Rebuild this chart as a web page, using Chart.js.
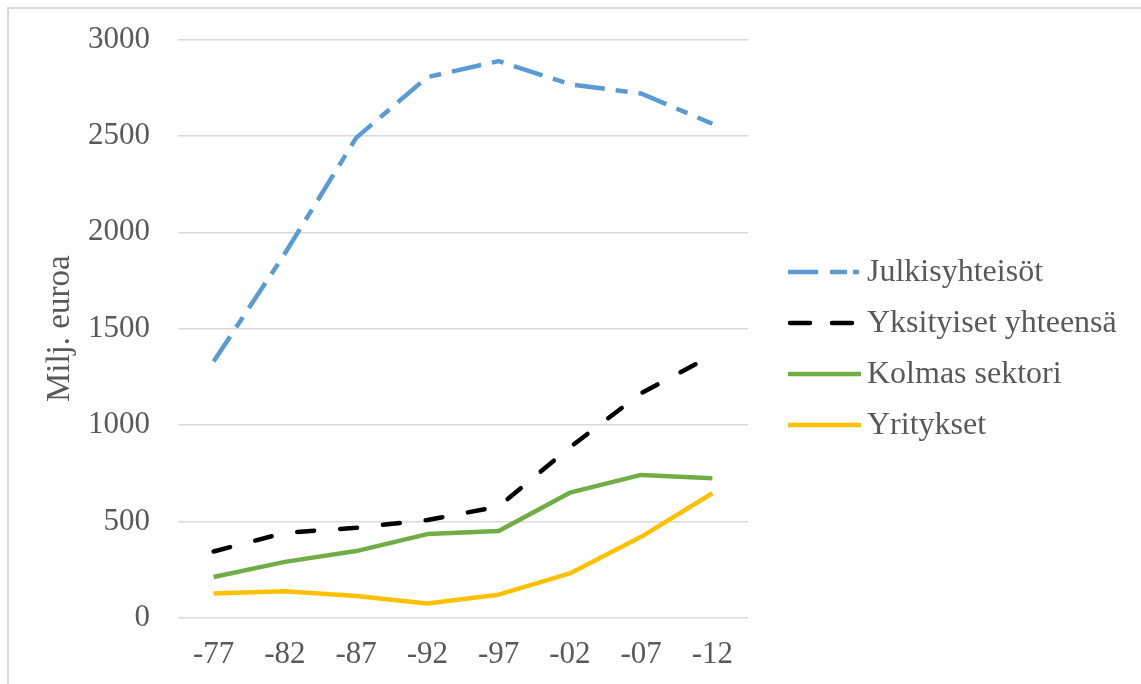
<!DOCTYPE html>
<html>
<head>
<meta charset="utf-8">
<script src="https://cdn.jsdelivr.net/npm/chart.js@4/dist/chart.umd.min.js"></script>
<style>
  html, body { margin: 0; padding: 0; background: #ffffff; }
  #wrap { position: relative; width: 1141px; height: 684px; }
</style>
</head>
<body>
<div id="wrap"><canvas id="c" width="1141" height="684"></canvas></div>
<script>
// Vuodet (x-akselin luokat)
const years = ['-77', '-82', '-87', '-92', '-97', '-02', '-07', '-12'];

// Sarjat, milj. euroa
const julkisyhteisot = [1330, 1890, 2490, 2805, 2888, 2768, 2720, 2563];
const yksityisetYhteensa = [345, 442, 468, 508, 578, 885, 1166, 1362];
const kolmasSektori = [213, 291, 347, 435, 451, 650, 742, 725];
const yritykset = [127, 139, 114, 75, 121, 231, 421, 647];

// Y-akselin asteikko
const yTicks = [0, 500, 1000, 1500, 2000, 2500, 3000];

const seriesNames = ['Julkisyhteisöt', 'Yksityiset yhteensä', 'Kolmas sektori', 'Yritykset'];

const FONT = 'Liberation Serif, "Times New Roman", serif';
const TEXT = '#595959';
const GRID = '#d9d9d9';

// Legend line samples drawn next to each name
const legendDash = [[30, 12, 17, 6, 6, 40], [20, 22], [], []];

const framePlugin = {
  id: 'frame',
  beforeDraw(chart) {
    const ctx = chart.ctx;
    ctx.save();
    ctx.fillStyle = '#ffffff';
    ctx.fillRect(0, 0, chart.width, chart.height);
    ctx.strokeStyle = GRID;
    ctx.lineWidth = 2;
    ctx.beginPath();
    ctx.moveTo(8, chart.height);
    ctx.lineTo(8, 8);
    ctx.lineTo(chart.width, 8);
    ctx.stroke();
    ctx.restore();
  }
};

const legendPlugin = {
  id: 'sideLegend',
  afterDraw(chart) {
    const ctx = chart.ctx;
    ctx.save();
    chart.data.datasets.forEach((ds, i) => {
      const y = 272 + i * 51;
      ctx.strokeStyle = ds.borderColor;
      ctx.lineWidth = ds.borderWidth;
      ctx.lineCap = ds.borderCapStyle;
      ctx.setLineDash(legendDash[i]);
      ctx.beginPath();
      if (ds.borderCapStyle === 'round') {
        ctx.moveTo(790, y);
        ctx.lineTo(859, y);
      } else {
        ctx.moveTo(788, y);
        ctx.lineTo(861, y);
      }
      ctx.stroke();
      ctx.setLineDash([]);
      ctx.fillStyle = TEXT;
      ctx.font = '32px ' + FONT;
      ctx.textBaseline = 'middle';
      ctx.textAlign = 'left';
      ctx.fillText(ds.label, 867, y + 1);
    });
    ctx.restore();
  }
};

new Chart(document.getElementById('c'), {
  type: 'line',
  data: {
    labels: years,
    datasets: [
      {
        label: seriesNames[0], data: julkisyhteisot,
        borderColor: '#5b9bd5', borderWidth: 4.5,
        borderDash: [30, 11, 12, 11], borderCapStyle: 'butt', borderJoinStyle: 'round'
      },
      {
        label: seriesNames[1], data: yksityisetYhteensa,
        borderColor: '#000000', borderWidth: 4.5,
        borderDash: [17, 26], borderCapStyle: 'round', borderJoinStyle: 'round'
      },
      {
        label: seriesNames[2], data: kolmasSektori,
        borderColor: '#70ad47', borderWidth: 4.5,
        borderCapStyle: 'butt', borderJoinStyle: 'round'
      },
      {
        label: seriesNames[3], data: yritykset,
        borderColor: '#ffc000', borderWidth: 4.5,
        borderCapStyle: 'butt', borderJoinStyle: 'round'
      }
    ]
  },
  options: {
    responsive: false,
    animation: false,
    devicePixelRatio: 1,
    layout: { padding: { left: 0, top: 39.5, right: 393, bottom: 0 } },
    elements: { point: { radius: 0, hoverRadius: 0 }, line: { tension: 0 } },
    plugins: {
      legend: { display: false },
      tooltip: { enabled: false },
      title: { display: false }
    },
    scales: {
      x: {
        offset: true,
        grid: { display: false, drawTicks: false },
        border: { display: false },
        ticks: { color: TEXT, font: { family: FONT, size: 31 }, padding: 18, maxRotation: 0 },
        afterFit(scale) { scale.height = 66; }
      },
      y: {
        min: 0, max: 3000,
        afterBuildTicks(scale) { scale.ticks = yTicks.map(v => ({ value: v })); },
        grid: { color: GRID, lineWidth: 1.5, drawTicks: false },
        border: { display: false },
        ticks: {
          color: TEXT, font: { family: FONT, size: 31 }, padding: 28,
          callback: (v) => String(v)
        },
        title: {
          display: true, text: 'Milj. euroa', color: TEXT,
          font: { family: FONT, size: 33 }, padding: { top: 41, bottom: 0 }
        },
        afterFit(scale) {
          scale.width = 178;
          scale.paddingTop = 0;
          scale.paddingBottom = 0;
        }
      }
    }
  },
  plugins: [framePlugin, legendPlugin]
});
</script>
</body>
</html>
